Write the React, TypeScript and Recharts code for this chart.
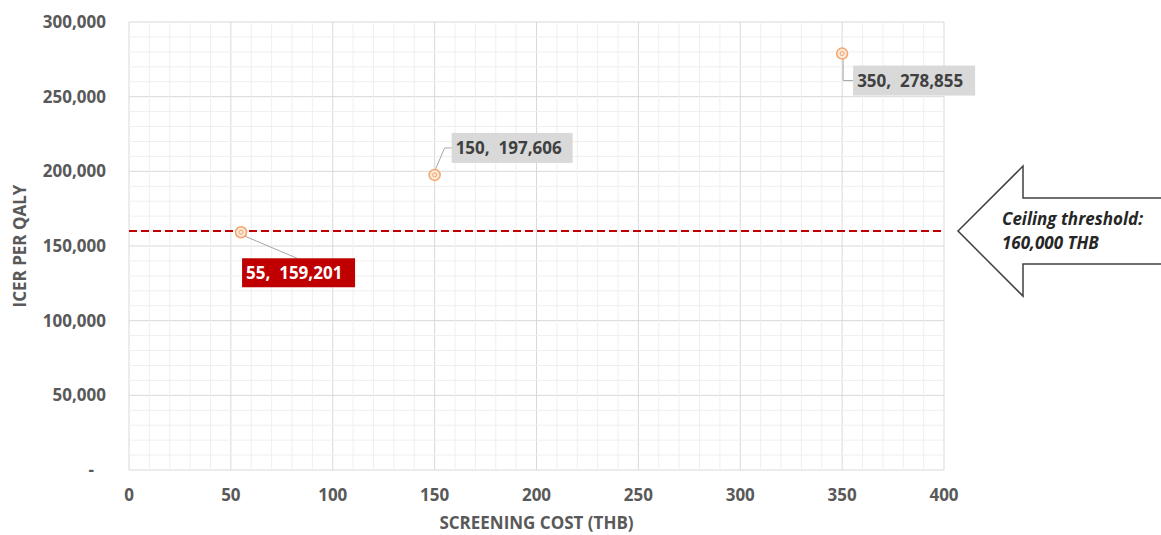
import React from 'react';
import { ScatterChart, Scatter, XAxis, YAxis, CartesianGrid, ReferenceLine, Label } from 'recharts';

// Screening cost (THB) and resulting ICER per QALY
const screeningCost = [55, 150, 350];
const icerPerQaly = [159201, 197606, 278855];

const xTicks = [0, 50, 100, 150, 200, 250, 300, 350, 400];
const yTicks = [0, 50000, 100000, 150000, 200000, 250000, 300000];

const ceilingThreshold = 160000;
const thresholdLines = ['Ceiling threshold:', '160,000 THB'];

const xMinorStep = 10;
const yMinorStep = 10000;

const points = screeningCost.map((x, i) => ({ x, y: icerPerQaly[i] }));

const xMinor: number[] = [];
for (let v = xMinorStep; v < 400; v += xMinorStep) if (v % 50 !== 0) xMinor.push(v);
const yMinor: number[] = [];
for (let v = yMinorStep; v < 300000; v += yMinorStep) if (v % 50000 !== 0) yMinor.push(v);

const FONT = '"Open Sans", "Noto Sans", sans-serif';
const TEXT = '#595959';

const fmt = (v: number) => v.toLocaleString('en-US');

const YTick = (props: any) => {
  const { x, y, payload } = props;
  const zero = payload.value === 0;
  return (
    <text x={zero ? x - 12 : x} y={y} dy="0.355em" textAnchor="end" fill={TEXT}
      fontSize={17} fontWeight={700} fontFamily={FONT}>
      {zero ? '-' : fmt(payload.value)}
    </text>
  );
};

// Callout layout for each point: box offset, box size, leader path, colours
const callouts = [
  { bx: 1, by: 26, w: 113, h: 29, leader: (cx: number, cy: number) => `M${cx + 4},${cy + 4} L${cx + 56},${cy + 26}`, fill: '#c00000', color: '#ffffff' },
  { bx: 17, by: -42, w: 121, h: 30, leader: (cx: number, cy: number) => `M${cx + 1},${cy - 6} L${cx + 10},${cy - 27} L${cx + 17},${cy - 27}`, fill: '#d9d9d9', color: '#404040' },
  { bx: 11, by: 12, w: 122, h: 30, leader: (cx: number, cy: number) => `M${cx + 1},${cy + 6} L${cx + 1},${cy + 27} L${cx + 11},${cy + 27}`, fill: '#d9d9d9', color: '#404040' },
];

const PointShape = (props: any) => {
  const { cx, cy, index, payload } = props;
  const c = callouts[index];
  return (
    <g>
      <path d={c.leader(cx, cy)} fill="none" stroke="#a6a6a6" strokeWidth={1} />
      <circle cx={cx} cy={cy} r={5.5} fill="#fde9d9" stroke="#f4a46a" strokeWidth={1.5} />
      <circle cx={cx} cy={cy} r={2} fill="none" stroke="#f4a46a" strokeWidth={1} />
      <rect x={cx + c.bx} y={cy + c.by} width={c.w} height={c.h} fill={c.fill} />
      <text x={cx + c.bx + 4} y={cy + c.by + c.h / 2} dy="0.36em" fill={c.color}
        fontSize={17} fontWeight={700} fontFamily={FONT} style={{ whiteSpace: 'pre' }}>
        {`${payload.x},  ${fmt(payload.y)}`}
      </text>
    </g>
  );
};

const ThresholdArrow = (props: any) => {
  const { viewBox } = props;
  const tip = viewBox.x + viewBox.width + 14;
  const y = viewBox.y;
  const head = tip + 65;
  const pts = [
    [tip, y], [head, y - 65], [head, y - 33], [1170, y - 33],
    [1170, y + 33], [head, y + 33], [head, y + 65],
  ].map((p) => p.join(',')).join(' ');
  return (
    <g>
      <polygon points={pts} fill="#ffffff" stroke="#404040" strokeWidth={1.5} />
      {thresholdLines.map((t, i) => (
        <text key={t} x={tip + 44} y={y - 6 + i * 24} fill="#262626" fontSize={17}
          fontWeight={700} fontStyle="italic" fontFamily={FONT}>
          {t}
        </text>
      ))}
    </g>
  );
};

const YTitle = (props: any) => {
  const { viewBox } = props;
  const cx = 20;
  const cy = viewBox.y + viewBox.height / 2;
  return (
    <text x={cx} y={cy} transform={`rotate(-90 ${cx} ${cy})`} textAnchor="middle" dy="0.36em"
      fill={TEXT} fontSize={17} fontWeight={700} fontFamily={FONT}>
      ICER PER QALY
    </text>
  );
};

export default function App() {
  return (
    <div style={{ position: 'absolute', left: 0, top: 0, width: 1161, height: 535, background: '#fff', fontFamily: FONT }}>
      <ScatterChart width={1161} height={535} margin={{ top: 22, right: 217, bottom: 0, left: 0 }}>
        {xMinor.map((v) => (
          <ReferenceLine key={`xm${v}`} x={v} stroke="#efefef" strokeWidth={1} />
        ))}
        {yMinor.map((v) => (
          <ReferenceLine key={`ym${v}`} y={v} stroke="#efefef" strokeWidth={1} />
        ))}
        <CartesianGrid stroke="#d9d9d9" strokeWidth={1} />
        <XAxis type="number" dataKey="x" domain={[0, 400]} ticks={xTicks} axisLine={false}
          tickLine={false} tickSize={0} tickMargin={19} height={65} interval={0}
          tick={{ fill: TEXT, fontSize: 17, fontWeight: 700, fontFamily: FONT }}>
          <Label value="SCREENING COST (THB)" position="insideBottom" offset={6}
            fill={TEXT} fontSize={17} fontWeight={700} fontFamily={FONT} />
        </XAxis>
        <YAxis type="number" dataKey="y" domain={[0, 300000]} ticks={yTicks} axisLine={false}
          tickLine={false} tickSize={0} tickMargin={23} width={129} interval={0} tick={<YTick />}>
          <Label content={<YTitle />} />
        </YAxis>
        <ReferenceLine y={ceilingThreshold} stroke="#c00000" strokeWidth={2} strokeDasharray="8 4"
          label={<ThresholdArrow />} />
        <Scatter data={points} isAnimationActive={false} shape={<PointShape />} />
      </ScatterChart>
    </div>
  );
}
